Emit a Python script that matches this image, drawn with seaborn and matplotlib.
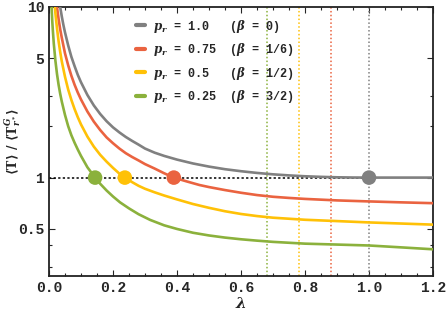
import numpy as np
import pandas as pd
import matplotlib
matplotlib.use("Agg")
import matplotlib.pyplot as plt
import matplotlib.ticker as mticker
import seaborn as sns

# curve samples (lambda, <T>/<T_r^G>)
lam_10 = [0.035, 0.04, 0.045, 0.05, 0.06, 0.07, 0.08, 0.09, 0.1, 0.12, 0.14, 0.16,
          0.18, 0.2, 0.22, 0.24, 0.26, 0.28, 0.3, 0.33, 0.36, 0.4, 0.45, 0.5,
          0.55, 0.6, 0.65, 0.7, 0.75, 0.8, 0.85, 0.9, 0.95, 1.0, 1.1, 1.2]
val_10 = [10.0, 8.8, 7.85, 7.1, 5.95, 5.1, 4.5, 4.0, 3.62, 3.05, 2.65, 2.36,
          2.14, 1.97, 1.84, 1.73, 1.64, 1.56, 1.48, 1.40, 1.34, 1.275, 1.21, 1.16,
          1.12, 1.09, 1.065, 1.045, 1.03, 1.018, 1.01, 1.004, 1.001, 1.0, 1.0, 1.0]

lam_075 = [0.025, 0.03, 0.035, 0.04, 0.05, 0.06, 0.07, 0.08, 0.09, 0.1, 0.12, 0.14,
           0.16, 0.18, 0.2, 0.22, 0.24, 0.26, 0.28, 0.3, 0.33, 0.36, 0.39, 0.43,
           0.47, 0.5, 0.55, 0.6, 0.65, 0.7, 0.75, 0.8, 0.9, 1.0, 1.1, 1.2]
val_075 = [10.0, 8.5, 7.4, 6.6, 5.35, 4.55, 3.95, 3.5, 3.15, 2.87, 2.44, 2.13,
           1.9, 1.72, 1.59, 1.48, 1.39, 1.32, 1.26, 1.2, 1.13, 1.06, 1.0, 0.95,
           0.905, 0.88, 0.845, 0.815, 0.79, 0.772, 0.76, 0.75, 0.735, 0.725, 0.716, 0.708]

lam_05 = [0.018, 0.02, 0.025, 0.03, 0.035, 0.04, 0.05, 0.06, 0.07, 0.08, 0.09, 0.1,
          0.12, 0.14, 0.16, 0.18, 0.2, 0.22, 0.237, 0.26, 0.28, 0.3, 0.33, 0.36,
          0.4, 0.45, 0.5, 0.55, 0.6, 0.65, 0.7, 0.8, 0.9, 1.0, 1.1, 1.2]
val_05 = [10.2, 9.2, 7.5, 6.3, 5.45, 4.8, 3.9, 3.28, 2.85, 2.52, 2.26, 2.05,
          1.74, 1.52, 1.36, 1.24, 1.14, 1.055, 1.0, 0.94, 0.895, 0.86, 0.82, 0.785,
          0.745, 0.70, 0.665, 0.635, 0.612, 0.595, 0.582, 0.566, 0.556, 0.546, 0.538, 0.53]

lam_025 = [0.008, 0.01, 0.012, 0.015, 0.02, 0.025, 0.03, 0.035, 0.04, 0.05, 0.06, 0.07,
           0.08, 0.09, 0.1, 0.12, 0.144, 0.16, 0.18, 0.2, 0.222, 0.25, 0.28, 0.316,
           0.36, 0.4, 0.45, 0.5, 0.55, 0.6, 0.65, 0.7, 0.8, 0.9, 1.0, 1.1, 1.2]
val_025 = [10.1, 8.4, 7.3, 6.1, 4.85, 4.05, 3.5, 3.1, 2.79, 2.33, 2.0, 1.77,
           1.6, 1.46, 1.34, 1.15, 1.0, 0.92, 0.84, 0.775, 0.716, 0.66, 0.61, 0.565,
           0.525, 0.50, 0.475, 0.458, 0.445, 0.435, 0.427, 0.42, 0.41, 0.405, 0.40, 0.39, 0.38]

p_r = ["1.0", "0.75", "0.5", "0.25"]
beta = ["0", "1/6", "1/2", "3/2"]
colors = ["#808080", "#EA6340", "#FFC107", "#8BB13C"]

# where each curve crosses 1, and the dotted vertical markers
dot_lam = [1.0, 0.39, 0.237, 0.144]
vline_lam = [1.0, 0.88, 0.78, 0.68]

labels = [rf"$\mathbfit{{p_r}}$ = {p:<4}  ($\beta$ = {b})" for p, b in zip(p_r, beta)]

frames = []
for lab, x, y in zip(labels, [lam_10, lam_075, lam_05, lam_025],
                     [val_10, val_075, val_05, val_025]):
    frames.append(pd.DataFrame({"lam": x, "val": y, "series": lab}))
df = pd.concat(frames, ignore_index=True)
dots = pd.DataFrame({"lam": dot_lam, "val": [1.0] * 4, "series": labels})

sns.set_style("ticks")
plt.rcParams["font.family"] = ["Liberation Mono", "DejaVu Sans"]
plt.rcParams["font.weight"] = "bold"
plt.rcParams["mathtext.fontset"] = "dejavuserif"

fig = plt.figure(figsize=(4.47, 3.12), dpi=100)
ax = fig.add_axes([0.1096, 0.1154, 0.8591, 0.8622])

for xv, c in zip(vline_lam, colors):
    ax.axvline(xv, color=c, ls=(0, (1, 1.5)), lw=1.1, zorder=1)
ax.hlines(1.0, 0, 1.0, colors="black", linestyles=(0, (1.5, 1.5)), lw=1.1, zorder=1)

sns.lineplot(data=df, x="lam", y="val", hue="series", palette=colors,
             estimator=None, lw=1.9, ax=ax, zorder=3)
sns.scatterplot(data=dots, x="lam", y="val", hue="series", palette=colors,
                s=110, edgecolor="none", legend=False, ax=ax, zorder=4)

ax.set_yscale("log")
ax.set_xlim(0, 1.2)
ax.set_ylim(0.265, 10)
ax.yaxis.set_major_locator(mticker.FixedLocator([0.5, 1, 5, 10]))
ax.yaxis.set_major_formatter(mticker.FixedFormatter(["0.5", "1", "5", "10"]))
ax.yaxis.set_minor_locator(mticker.FixedLocator([0.3, 0.4, 2, 3]))
ax.yaxis.set_minor_formatter(mticker.NullFormatter())
ax.xaxis.set_major_locator(mticker.MultipleLocator(0.2))
ax.xaxis.set_minor_locator(mticker.MultipleLocator(0.05))
ax.xaxis.set_major_formatter(mticker.FormatStrFormatter("%.1f"))

ax.tick_params(which="both", direction="in", top=True, right=True, width=0.8)
ax.tick_params(which="major", length=4, labelsize=10.5)
ax.tick_params(which="minor", length=2)
for s in ax.spines.values():
    s.set_linewidth(1.3)
    s.set_color("#222222")

ax.set_xlabel(r"$\lambda$", fontsize=11, labelpad=1)
ax.set_ylabel(r"$\langle \mathbf{T}\rangle\ /\ \langle \mathbf{T}_{r^*}^{G}\rangle$",
              fontsize=9)
ax.yaxis.set_label_coords(-0.068, 0.5)

leg = ax.legend(loc="upper left", bbox_to_anchor=(0.2, 1.0), frameon=False,
                handlelength=0.7, handletextpad=0.7, labelspacing=0.55,
                prop={"family": "Liberation Mono", "weight": "bold", "size": 8.5})
for h in leg.get_lines():
    h.set_linewidth(3)

fig.savefig("out.png", dpi=100)
